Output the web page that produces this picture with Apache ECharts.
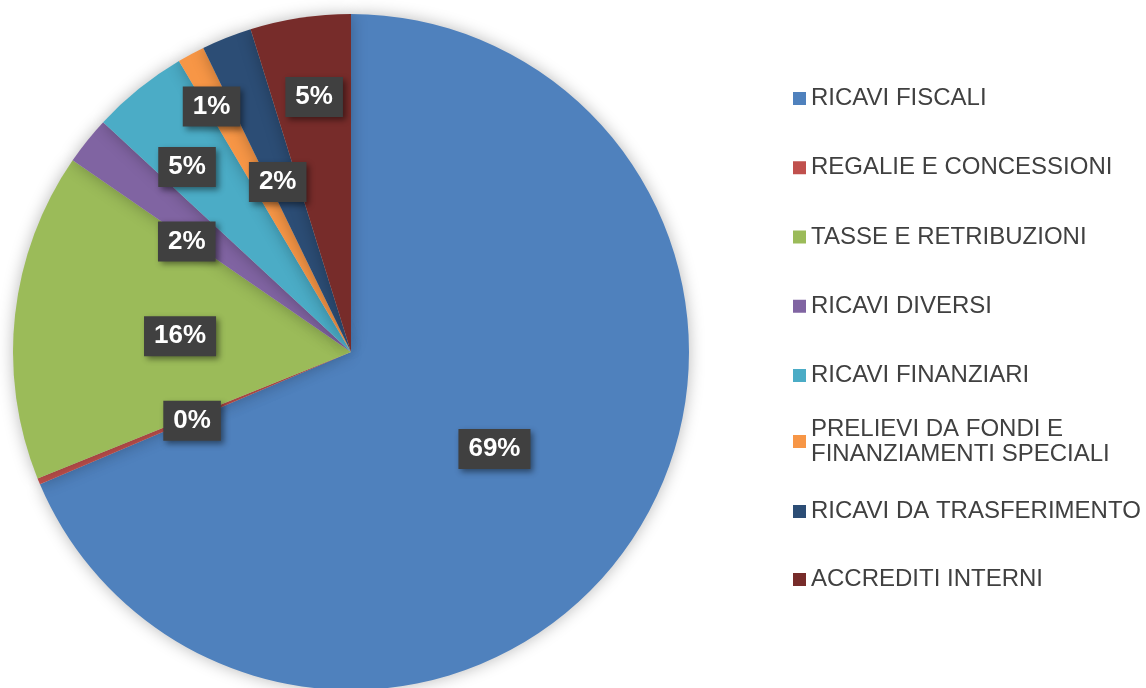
<!DOCTYPE html>
<html>
<head>
<meta charset="utf-8">
<script src="https://cdn.jsdelivr.net/npm/echarts@6/dist/echarts.min.js"></script>
<style>
  html, body { margin: 0; padding: 0; background: #fff; }
  #chart { width: 1146px; height: 688px; }
</style>
</head>
<body>
<div id="chart"></div>
<script>
// categories and shares (percent)
const categories = [
  'RICAVI FISCALI',
  'REGALIE E CONCESSIONI',
  'TASSE E RETRIBUZIONI',
  'RICAVI DIVERSI',
  'RICAVI FINANZIARI',
  'PRELIEVI DA FONDI E FINANZIAMENTI SPECIALI',
  'RICAVI DA TRASFERIMENTO',
  'ACCREDITI INTERNI'
]
const shares = [68.6, 0.3, 15.7, 2.3, 4.6, 1.3, 2.4, 4.8]

const colors = ['#4f81bd', '#c0504d', '#9bbb59', '#8064a2', '#4bacc6', '#f79646', '#2c4d75', '#772c2a']
// label nudges, Excel moved the small-slice labels off the mid radius
const labelNudge = [[0, 2], [0, 3], [0, 3], [-30, -3], [-56, -51], [-58, -94], [-10, -10], [-11, -85]]

const font = '"Liberation Sans", Arial, sans-serif'
const chart = echarts.init(document.getElementById('chart'))

const legendText = {
  color: '#404040',
  fontSize: 24,
  lineHeight: 25,
  fontFamily: font
}
const legendBase = {
  orient: 'vertical',
  left: 793,
  padding: 0,
  icon: 'rect',
  itemWidth: 13,
  itemHeight: 13,
  selectedMode: false,
  textStyle: legendText
}

chart.setOption({
  animation: false,
  color: colors,
  legend: [
    Object.assign({}, legendBase, { top: 86, itemGap: 44.25, data: categories.slice(0, 5) }),
    Object.assign({}, legendBase, {
      top: 404,
      data: [{ name: categories[5], textStyle: { padding: [25, 0, 0, 0] } }],
      formatter: () => 'PRELIEVI DA FONDI E\nFINANZIAMENTI SPECIALI'
    }),
    Object.assign({}, legendBase, { top: 499, itemGap: 43, data: categories.slice(6) })
  ],
  series: [{
    type: 'pie',
    center: [351, 352],
    radius: [0, 338],
    startAngle: 90,
    clockwise: true,
    avoidLabelOverlap: false,
    itemStyle: {
      shadowBlur: 16,
      shadowColor: 'rgba(0,0,0,0.28)'
    },
    label: {
      show: true,
      position: 'inside',
      formatter: p => Math.round(p.value) + '%',
      color: '#fff',
      fontFamily: font,
      fontWeight: 'bold',
      fontSize: 26,
      lineHeight: 26,
      backgroundColor: '#404040',
      padding: [7, 10, 7, 10],
      shadowColor: 'rgba(0,0,0,0.45)',
      shadowBlur: 6,
      shadowOffsetX: 3,
      shadowOffsetY: 3
    },
    labelLine: { show: false },
    labelLayout: p => ({ dx: labelNudge[p.dataIndex][0], dy: labelNudge[p.dataIndex][1] }),
    emphasis: { disabled: true },
    data: categories.map((name, i) => ({ name: name, value: shares[i] }))
  }]
})
</script>
</body>
</html>
